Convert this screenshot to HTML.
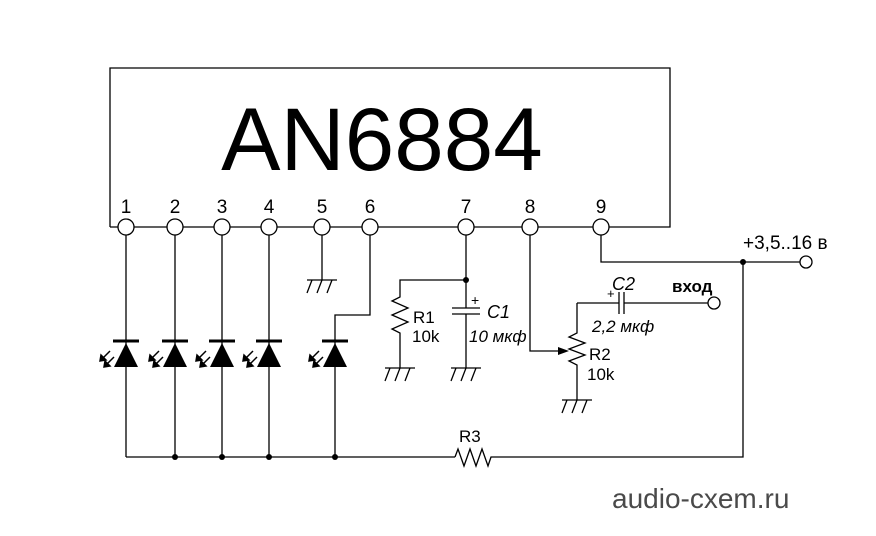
<!DOCTYPE html>
<html><head><meta charset="utf-8"><style>
html,body{margin:0;padding:0;background:#fff;}
svg{display:block;}
text{font-family:"Liberation Sans",Arial,sans-serif;fill:#000;}
</style></head><body>
<svg width="876" height="536" viewBox="0 0 876 536" xmlns="http://www.w3.org/2000/svg">
<defs>
<g id="gnd" stroke="#000" stroke-width="1.3" fill="none">
<line x1="-15" y1="0" x2="15" y2="0"/>
<line x1="-10" y1="0" x2="-15" y2="13"/>
<line x1="0" y1="0" x2="-5" y2="13"/>
<line x1="10" y1="0" x2="5" y2="13"/>
</g>
<g id="led">
<line x1="-13" y1="0" x2="13" y2="0" stroke="#000" stroke-width="3"/>
<polygon points="0,2 -12,26 12,26" fill="#000"/>
<g stroke="#000" stroke-width="1.5" fill="#000">
<line x1="-16" y1="10" x2="-24" y2="18"/><polygon points="-26,20 -25,14 -20,19"/>
<line x1="-12" y1="16" x2="-20" y2="24"/><polygon points="-22,26 -21,20 -16,25"/>
</g>
</g>
</defs>
<g stroke="#000" stroke-width="1.3" fill="none">
<polyline points="110,227 110,68 670,68 670,227 110,227"/>
<line x1="126" y1="227" x2="126" y2="457"/>
<line x1="175" y1="227" x2="175" y2="457"/>
<line x1="222" y1="227" x2="222" y2="457"/>
<line x1="269" y1="227" x2="269" y2="457"/>
<line x1="322" y1="227" x2="322" y2="280"/>
<polyline points="370,227 370,315 335,315 335,457"/>
<line x1="126" y1="457" x2="455" y2="457"/>
<polyline points="455,457 458,449 464,466 470,449 476,466 482,449 488,466 491,457 743,457 743,262"/>
<polyline points="601,227 601,262 805,262"/>
<line x1="466" y1="227" x2="466" y2="308"/>
<line x1="466" y1="314" x2="466" y2="368"/>
<line x1="452" y1="308" x2="480" y2="308"/>
<line x1="452" y1="314" x2="480" y2="314"/>
<polyline points="466,280 400,280 400,297 392,301 408,308 392,315 408,322 392,329 400,333 400,368"/>
<polyline points="530,227 530,351 560,351"/>
<polyline points="577,303 577,333 569,337 585,343 569,349 585,355 569,361 577,365 577,400"/>
<polyline points="577,303 619,303"/>
<line x1="619" y1="292" x2="619" y2="314"/>
<line x1="624" y1="292" x2="624" y2="314"/>
<line x1="624" y1="303" x2="708" y2="303"/>
</g>
<polygon points="569,351 558,347 558,355" fill="#000"/>
<g fill="#fff" stroke="#000" stroke-width="1.3">
<circle cx="126" cy="227" r="8"/><circle cx="175" cy="227" r="8"/><circle cx="222" cy="227" r="8"/>
<circle cx="269" cy="227" r="8"/><circle cx="322" cy="227" r="8"/><circle cx="370" cy="227" r="8"/>
<circle cx="466" cy="227" r="8"/><circle cx="530" cy="227" r="8"/><circle cx="601" cy="227" r="8"/>
<circle cx="806" cy="262" r="6"/><circle cx="714" cy="303" r="6"/>
</g>
<g fill="#000">
<circle cx="175" cy="457" r="3"/><circle cx="222" cy="457" r="3"/><circle cx="269" cy="457" r="3"/>
<circle cx="335" cy="457" r="3"/><circle cx="743" cy="262" r="3"/><circle cx="466" cy="280" r="3"/>
</g>
<use href="#gnd" x="322" y="280"/>
<use href="#gnd" x="400" y="368"/>
<use href="#gnd" x="466" y="368"/>
<use href="#gnd" x="577" y="400"/>
<use href="#led" x="126" y="341"/>
<use href="#led" x="175" y="341"/>
<use href="#led" x="222" y="341"/>
<use href="#led" x="269" y="341"/>
<use href="#led" x="335" y="341"/>
<text x="382" y="170" font-size="89" text-anchor="middle">AN6884</text>
<g font-size="19" text-anchor="middle">
<text x="126" y="213">1</text><text x="175" y="213">2</text><text x="222" y="213">3</text>
<text x="269" y="213">4</text><text x="322" y="213">5</text><text x="370" y="213">6</text>
<text x="466" y="213">7</text><text x="530" y="213">8</text><text x="601" y="213">9</text>
</g>
<text x="743" y="249" font-size="19">+3,5..16 в</text>
<text x="672" y="292" font-size="17" font-weight="bold">вход</text>
<text x="413" y="323" font-size="17">R1</text>
<text x="412" y="342" font-size="17">10k</text>
<text x="471" y="305" font-size="14">+</text>
<text x="487" y="318" font-size="18" font-style="italic">C1</text>
<text x="469" y="342" font-size="17" font-style="italic">10 мкф</text>
<text x="607" y="298" font-size="13">+</text>
<text x="612" y="290" font-size="18" font-style="italic">C2</text>
<text x="592" y="332" font-size="17" font-style="italic">2,2 мкф</text>
<text x="589" y="360" font-size="17">R2</text>
<text x="587" y="380" font-size="17">10k</text>
<text x="459" y="442" font-size="17">R3</text>
<text x="612" y="508" font-size="28" style="fill:#4a4a4a">audio-cxem.ru</text>
</svg>
</body></html>
